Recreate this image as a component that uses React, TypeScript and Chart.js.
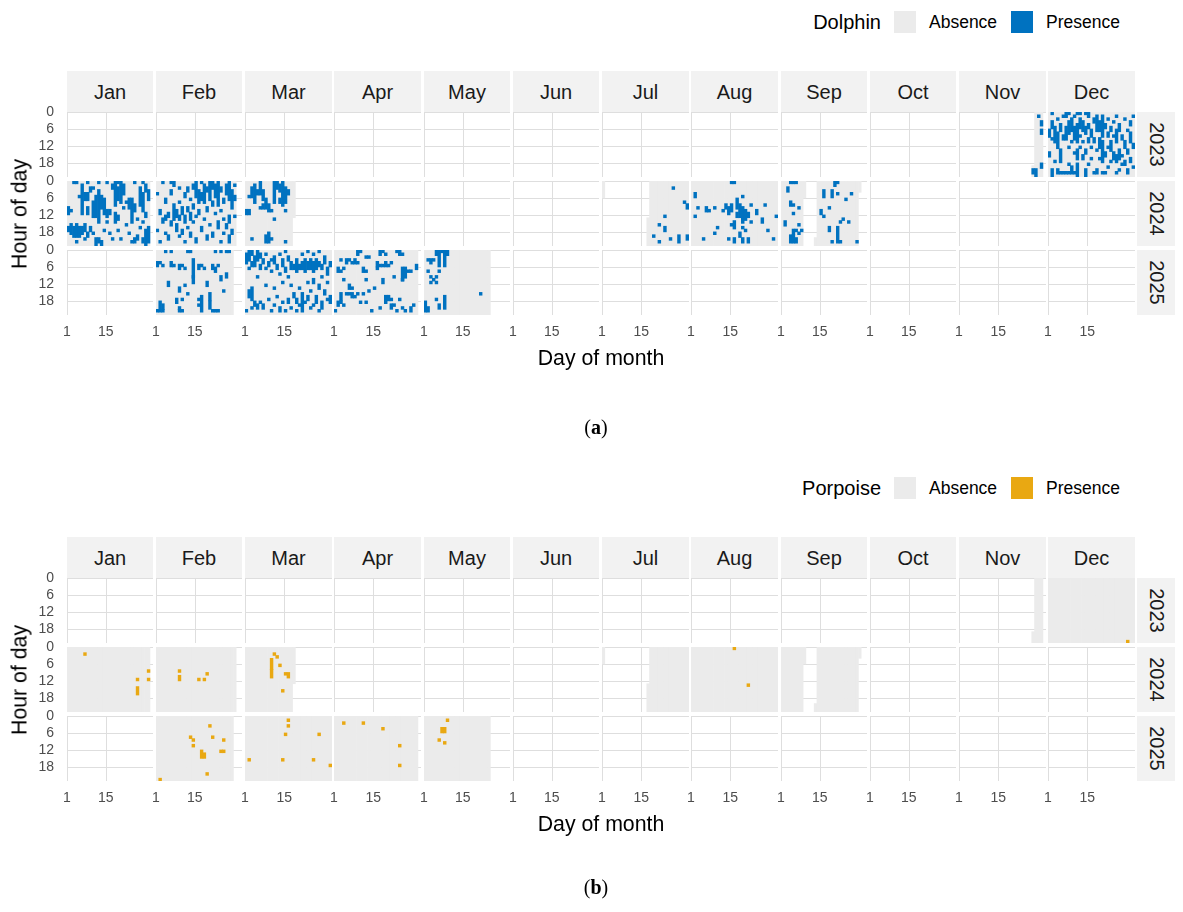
import React, { useEffect, useRef } from 'react';
import { Chart, registerables } from 'chart.js';

Chart.register(...registerables);

// ---------------- data ----------------
const MONTHS = ['Jan', 'Feb', 'Mar', 'Apr', 'May', 'Jun', 'Jul', 'Aug', 'Sep', 'Oct', 'Nov', 'Dec'];
const YEARS = [2023, 2024, 2025];
const DAY_TICKS = [1, 15];
const HOUR_TICKS = [0, 6, 12, 18];
const LAST_HOUR = 22;

// Recording effort (Absence background): [year, month, startDay, startHour, endDay, endHour]
const RECORDING: number[][] = [
  [2023, 11, 27, 19, 30, 22],
  [2023, 12, 1, 0, 31, 22],
  [2024, 1, 1, 0, 30, 22],
  [2024, 2, 1, 0, 29, 22],
  [2024, 3, 1, 0, 18, 12],
  [2024, 7, 1, 0, 1, 5],
  [2024, 7, 17, 13, 31, 22],
  [2024, 8, 1, 0, 31, 22],
  [2024, 9, 1, 0, 9, 5],
  [2024, 9, 13, 20, 29, 3],
  [2025, 2, 1, 0, 28, 22],
  [2025, 3, 1, 0, 31, 22],
  [2025, 4, 1, 0, 30, 22],
  [2025, 5, 1, 0, 24, 22],
];

// Presence runs: [day, fromHour, toHour]
const DOLPHIN_2023_11 = [[29, 1, 1], [30, 3, 4], [30, 6, 7], [30, 18, 19], [27, 20, 21], [28, 20, 22]];
const DOLPHIN_2023_12 = [
  [1, 6, 8], [1, 14, 15], [2, 0, 0], [2, 3, 5], [2, 9, 9], [2, 20, 22], [3, 5, 10], [3, 17, 17],
  [4, 2, 2], [4, 7, 12], [4, 20, 21], [5, 4, 6], [5, 13, 17], [5, 21, 21], [6, 1, 1], [6, 8, 9], [6, 21, 21],
  [7, 0, 1], [7, 5, 9], [7, 21, 21], [8, 0, 0], [8, 3, 7], [8, 12, 12], [8, 18, 18], [8, 21, 21],
  [9, 2, 6], [9, 10, 10], [9, 19, 21], [10, 1, 1], [10, 5, 9], [10, 14, 14], [10, 21, 21],
  [11, 0, 0], [11, 4, 10], [11, 13, 16], [11, 18, 22], [12, 0, 0], [12, 2, 5], [12, 8, 8], [12, 12, 12],
  [13, 3, 6], [13, 10, 10], [13, 15, 16], [14, 0, 0], [14, 5, 7], [14, 13, 14], [14, 20, 22],
  [15, 0, 1], [15, 4, 5], [15, 9, 10], [15, 18, 18], [16, 6, 8], [16, 12, 12], [16, 16, 16],
  [17, 2, 3], [17, 9, 10], [17, 21, 21], [18, 1, 6], [18, 13, 13], [18, 20, 21],
  [19, 3, 6], [19, 9, 12], [19, 16, 16], [20, 1, 8], [20, 10, 17], [20, 21, 21],
  [21, 4, 5], [21, 14, 15], [21, 21, 21], [22, 2, 2], [22, 7, 8], [22, 12, 12], [22, 19, 19],
  [23, 5, 6], [23, 10, 13], [23, 17, 17], [24, 3, 3], [24, 8, 8], [24, 14, 16],
  [25, 1, 1], [25, 6, 10], [25, 15, 17], [25, 21, 21], [26, 4, 6], [26, 13, 16], [26, 20, 20],
  [27, 8, 9], [27, 15, 15], [27, 18, 18], [28, 2, 2], [28, 10, 12], [28, 17, 18],
  [29, 6, 6], [29, 13, 14], [29, 20, 21], [30, 3, 4], [30, 7, 10], [30, 16, 17],
  [31, 1, 1], [31, 11, 12], [31, 19, 19],
];
const DOLPHIN_2024_01 = [
  [1, 9, 11], [1, 16, 17], [2, 10, 10], [2, 15, 18], [3, 0, 0], [3, 16, 19], [4, 0, 0], [4, 15, 19], [4, 21, 21],
  [5, 5, 5], [5, 16, 19], [6, 1, 11], [6, 16, 18], [7, 4, 6], [7, 15, 17], [7, 20, 20],
  [8, 0, 0], [8, 4, 6], [8, 9, 11], [8, 18, 19], [9, 2, 3], [9, 16, 17], [10, 2, 2], [10, 7, 12], [10, 18, 18],
  [11, 5, 12], [11, 20, 22], [12, 0, 0], [12, 3, 14], [12, 20, 21], [13, 5, 9], [13, 21, 22],
  [14, 6, 11], [14, 17, 17], [15, 0, 0], [15, 10, 12], [15, 14, 14], [16, 10, 11], [16, 18, 18],
  [17, 1, 2], [17, 20, 20], [18, 0, 8], [18, 11, 14], [19, 0, 0], [19, 2, 6], [19, 12, 13], [19, 17, 17],
  [20, 0, 7], [20, 20, 20], [21, 1, 4], [21, 9, 9], [22, 7, 7], [22, 15, 15], [23, 6, 9], [23, 18, 18],
  [24, 6, 14], [24, 21, 21], [25, 0, 0], [25, 8, 10], [25, 20, 21], [26, 13, 13], [26, 19, 20],
  [27, 2, 8], [27, 16, 16], [28, 0, 0], [28, 4, 10], [28, 14, 14], [28, 20, 21],
  [29, 1, 3], [29, 11, 12], [29, 17, 22], [30, 3, 6], [30, 16, 21],
];
const DOLPHIN_2024_02 = [
  [1, 4, 4], [1, 17, 17], [2, 10, 11], [2, 21, 21], [3, 0, 0], [3, 13, 14], [4, 6, 7], [4, 12, 13], [4, 18, 18],
  [5, 11, 12], [5, 19, 20], [6, 0, 0], [6, 3, 4], [6, 14, 15], [7, 0, 1], [7, 8, 13], [8, 10, 12], [8, 15, 17],
  [9, 2, 2], [9, 7, 7], [9, 12, 13], [9, 19, 19], [10, 9, 11], [10, 17, 18], [11, 4, 5], [11, 12, 14], [11, 21, 21],
  [12, 2, 3], [12, 9, 10], [12, 16, 16], [13, 6, 6], [13, 11, 13], [13, 18, 19], [14, 1, 2], [14, 8, 9], [14, 14, 14],
  [15, 0, 5], [15, 12, 12], [15, 20, 21], [16, 3, 7], [16, 10, 11], [17, 0, 0], [17, 4, 6], [17, 16, 17],
  [18, 1, 7], [18, 13, 13], [19, 2, 3], [19, 9, 10], [19, 19, 20], [20, 0, 6], [20, 15, 15],
  [21, 0, 2], [21, 7, 8], [21, 18, 19], [22, 1, 5], [22, 11, 11], [23, 0, 8], [23, 14, 16],
  [24, 2, 3], [24, 10, 10], [24, 21, 21], [25, 6, 7], [25, 13, 13], [25, 18, 18], [26, 1, 4], [26, 15, 16],
  [27, 0, 6], [27, 12, 14], [27, 19, 21], [28, 3, 9], [28, 17, 18], [29, 1, 1], [29, 5, 6], [29, 12, 12],
];
const DOLPHIN_2024_03 = [
  [1, 10, 11], [2, 5, 5], [2, 10, 11], [3, 2, 5], [3, 20, 20], [4, 1, 7], [5, 3, 4], [6, 0, 4], [6, 9, 9],
  [7, 3, 6], [7, 8, 9], [8, 6, 9], [8, 19, 21], [9, 8, 10], [9, 18, 21], [10, 10, 10], [10, 20, 20],
  [11, 0, 7], [11, 13, 13], [12, 0, 2], [13, 1, 3], [13, 6, 7], [14, 0, 8], [15, 2, 7], [15, 10, 10],
  [15, 21, 21], [16, 3, 4],
];
const DOLPHIN_2024_07 = [
  [26, 2, 2], [30, 7, 7], [31, 8, 9], [23, 12, 12], [21, 15, 15], [23, 16, 17], [19, 19, 19],
  [21, 21, 21], [25, 20, 20], [28, 19, 21], [31, 19, 20],
];
const DOLPHIN_2024_08 = [
  [2, 4, 5], [2, 12, 12], [3, 9, 9], [5, 20, 20], [6, 9, 10], [7, 10, 10], [9, 9, 9], [9, 18, 18],
  [10, 16, 16], [12, 10, 10], [13, 8, 9], [14, 9, 11], [14, 20, 20], [15, 0, 0], [15, 8, 10], [15, 15, 15],
  [16, 0, 0], [16, 14, 16], [16, 20, 21], [17, 6, 9], [17, 11, 12], [18, 8, 12], [18, 18, 19], [19, 5, 5],
  [19, 9, 14], [19, 16, 16], [19, 20, 21], [20, 10, 13], [20, 17, 17], [21, 11, 12], [21, 20, 21],
  [22, 8, 8], [22, 14, 14], [24, 10, 11], [26, 13, 14], [27, 8, 8], [28, 17, 17], [30, 20, 20], [31, 12, 12],
];
const DOLPHIN_2024_09 = [
  [2, 14, 15], [3, 2, 3], [4, 0, 0], [4, 7, 8], [4, 19, 21], [5, 0, 0], [5, 8, 8], [5, 11, 11], [5, 17, 18],
  [5, 19, 21], [6, 0, 0], [6, 17, 17], [6, 20, 21], [7, 9, 9], [7, 15, 15], [7, 18, 18], [8, 17, 17],
  [15, 10, 11], [16, 3, 5], [16, 12, 12], [18, 9, 9], [18, 16, 17], [19, 3, 5], [19, 21, 21], [20, 0, 1],
  [21, 0, 0], [21, 4, 4], [21, 16, 21], [22, 14, 14], [22, 21, 21], [23, 13, 13], [24, 6, 6], [25, 14, 14],
  [26, 4, 4], [28, 21, 21],
];
const DOLPHIN_2025_02 = [
  [1, 4, 5], [2, 4, 4], [3, 5, 5], [4, 0, 0], [6, 0, 0], [6, 4, 5], [7, 5, 5], [9, 5, 6], [10, 5, 5], [11, 6, 6],
  [12, 0, 0], [13, 0, 0], [14, 3, 9], [16, 5, 6], [17, 5, 5], [18, 6, 6], [21, 5, 6], [22, 6, 7], [23, 5, 5],
  [22, 0, 0], [24, 0, 0], [26, 0, 0], [27, 0, 0], [26, 8, 9], [9, 13, 14], [14, 9, 11], [19, 11, 12],
  [16, 17, 17], [20, 15, 17], [17, 16, 21], [2, 18, 20], [3, 19, 20], [8, 17, 18], [9, 20, 20], [10, 17, 17],
  [16, 19, 19], [1, 21, 21], [2, 21, 21], [3, 21, 21], [9, 21, 21], [10, 21, 21], [21, 21, 21], [22, 21, 21],
  [23, 21, 21], [20, 18, 20], [5, 11, 12], [12, 15, 15], [24, 9, 10], [11, 12, 12], [25, 14, 14],
];
const DOLPHIN_2025_03 = [
  [1, 1, 4], [1, 21, 21], [2, 0, 3], [2, 6, 6], [2, 14, 16], [3, 0, 1], [3, 4, 5], [3, 13, 17], [3, 20, 20],
  [4, 2, 5], [4, 18, 19], [5, 0, 3], [5, 9, 9], [5, 19, 20], [6, 1, 2], [6, 5, 6], [6, 18, 18], [7, 3, 4],
  [7, 19, 20], [8, 1, 1], [8, 6, 6], [8, 12, 12], [9, 4, 5], [9, 17, 17], [10, 3, 3], [10, 7, 7], [10, 21, 21],
  [11, 2, 4], [11, 13, 13], [11, 19, 19], [12, 5, 6], [12, 16, 16], [13, 1, 1], [13, 8, 8], [13, 20, 21],
  [14, 3, 5], [14, 11, 11], [14, 18, 18], [15, 0, 0], [15, 6, 7], [15, 21, 21], [16, 2, 3], [16, 9, 9],
  [16, 17, 18], [17, 4, 6], [17, 12, 12], [17, 20, 20], [18, 5, 6], [18, 15, 16], [19, 3, 7], [19, 17, 18],
  [19, 21, 21], [20, 5, 6], [20, 13, 13], [20, 19, 19], [21, 1, 1], [21, 4, 6], [21, 15, 21], [22, 3, 7],
  [22, 18, 18], [23, 0, 0], [23, 4, 6], [23, 11, 11], [23, 16, 17], [24, 3, 6], [24, 14, 14], [24, 20, 20],
  [25, 1, 1], [25, 4, 7], [25, 10, 11], [25, 19, 19], [26, 3, 6], [26, 16, 18], [27, 0, 0], [27, 4, 5],
  [27, 12, 13], [27, 21, 21], [28, 5, 6], [28, 9, 9], [28, 18, 20], [29, 2, 4], [29, 14, 15], [30, 6, 8],
  [30, 11, 11], [30, 17, 17], [31, 4, 5], [31, 16, 18],
];
const DOLPHIN_2025_04 = [
  [9, 0, 1], [10, 0, 0], [17, 0, 1], [18, 0, 0], [19, 1, 1], [23, 0, 0], [24, 0, 1], [25, 1, 1], [3, 3, 3],
  [5, 3, 4], [6, 3, 3], [7, 4, 4], [8, 3, 4], [9, 4, 4], [12, 2, 2], [13, 2, 2], [16, 4, 5], [17, 5, 5],
  [18, 5, 5], [19, 4, 5], [20, 5, 5], [21, 4, 4], [11, 6, 7], [12, 7, 7], [2, 6, 7], [3, 7, 7], [4, 6, 6],
  [16, 6, 6], [25, 6, 10], [26, 6, 9], [27, 7, 7], [28, 7, 7], [30, 5, 6], [4, 10, 10], [12, 10, 10],
  [18, 10, 11], [25, 10, 10], [6, 12, 13], [7, 13, 13], [13, 14, 14], [3, 15, 17], [5, 15, 15], [6, 15, 15],
  [7, 15, 16], [8, 16, 16], [9, 15, 15], [11, 15, 15], [19, 16, 18], [20, 16, 17], [21, 17, 17], [24, 17, 17],
  [2, 18, 19], [3, 18, 18], [4, 19, 19], [10, 18, 18], [12, 18, 18], [17, 20, 20], [21, 19, 20], [22, 19, 19],
  [25, 20, 20], [29, 19, 19], [1, 21, 21], [14, 21, 21], [23, 21, 21], [26, 21, 21], [28, 20, 21],
  [15, 13, 13], [22, 9, 9],
];
const DOLPHIN_2025_05 = [
  [5, 0, 1], [6, 0, 5], [7, 0, 0], [8, 0, 5], [9, 0, 1], [2, 3, 3], [3, 3, 4], [4, 3, 3], [6, 7, 7], [2, 7, 7],
  [3, 9, 9], [4, 10, 10], [5, 9, 9], [3, 11, 11], [5, 11, 11], [21, 15, 15], [1, 18, 21], [2, 20, 21],
  [5, 17, 17], [6, 19, 20], [8, 16, 20],
];

const PORPOISE_2023_12 = [[29, 22, 22]];
const PORPOISE_2024_01 = [[7, 2, 2], [30, 8, 8], [26, 11, 11], [30, 11, 11], [26, 14, 16]];
const PORPOISE_2024_02 = [[9, 8, 8], [9, 10, 11], [16, 11, 11], [18, 11, 11], [19, 9, 9]];
const PORPOISE_2024_03 = [[11, 2, 2], [12, 3, 3], [10, 4, 7], [13, 6, 6], [10, 8, 10], [15, 9, 9], [16, 9, 10], [14, 15, 15]];
const PORPOISE_2024_08 = [[16, 0, 0], [21, 13, 13]];
const PORPOISE_2025_02 = [
  [20, 3, 3], [13, 7, 7], [14, 8, 8], [14, 10, 10], [21, 7, 7], [25, 8, 8], [17, 12, 14], [18, 13, 14],
  [24, 12, 12], [25, 12, 12], [19, 20, 20], [2, 22, 22],
];
const PORPOISE_2025_03 = [[16, 1, 1], [16, 3, 3], [15, 6, 6], [27, 6, 6], [2, 15, 15], [14, 15, 15], [25, 15, 15], [31, 17, 17]];
const PORPOISE_2025_04 = [[4, 2, 2], [11, 2, 2], [18, 4, 4], [24, 10, 10], [24, 17, 17]];
const PORPOISE_2025_05 = [[9, 1, 1], [7, 4, 5], [8, 4, 5], [6, 8, 8], [8, 9, 9]];

const DOLPHIN: Record<string, number[][]> = {
  '2023-11': DOLPHIN_2023_11, '2023-12': DOLPHIN_2023_12, '2024-1': DOLPHIN_2024_01, '2024-2': DOLPHIN_2024_02,
  '2024-3': DOLPHIN_2024_03, '2024-7': DOLPHIN_2024_07, '2024-8': DOLPHIN_2024_08, '2024-9': DOLPHIN_2024_09,
  '2025-2': DOLPHIN_2025_02, '2025-3': DOLPHIN_2025_03, '2025-4': DOLPHIN_2025_04, '2025-5': DOLPHIN_2025_05,
};
const PORPOISE: Record<string, number[][]> = {
  '2023-12': PORPOISE_2023_12, '2024-1': PORPOISE_2024_01, '2024-2': PORPOISE_2024_02, '2024-3': PORPOISE_2024_03,
  '2024-8': PORPOISE_2024_08, '2025-2': PORPOISE_2025_02, '2025-3': PORPOISE_2025_03, '2025-4': PORPOISE_2025_04,
  '2025-5': PORPOISE_2025_05,
};

// ---------------- styling / layout ----------------
const BLUE = '#0072C0';
const ORANGE = '#E9A812';
const ABSENCE = '#EBEBEB';
const STRIP_BG = '#F2F2F2';
const GRID = '#DEDEDE';
const SANS = '"Liberation Sans", Arial, sans-serif';

const COL_X0 = 66.5;
const COL_PITCH = 89.25;
const PANEL_W = 86.5;
const ROW_Y0 = 111.5;
const ROW_PITCH = 69.2;
const PANEL_H = 65.5;
const STRIP_TOP = 71;
const PAD = 26;
const Y_AXIS_W = 60;
const X_AXIS_H = 34;

// grid lines only at the chosen breaks, drawn under the tiles through the chart's scales
const facetGrid = {
  id: 'facetGrid',
  beforeDatasetsDraw(chart: any) {
    const { ctx, chartArea: a, scales } = chart;
    ctx.save();
    ctx.strokeStyle = GRID;
    ctx.lineWidth = 1;
    ctx.beginPath();
    DAY_TICKS.forEach((v) => {
      const px = Math.round(scales.x.getPixelForValue(v)) + 0.5;
      ctx.moveTo(px, a.top);
      ctx.lineTo(px, a.bottom);
    });
    HOUR_TICKS.forEach((v) => {
      const py = Math.round(scales.y.getPixelForValue(v)) + 0.5;
      ctx.moveTo(a.left, py);
      ctx.lineTo(a.right, py);
    });
    ctx.stroke();
    ctx.restore();
  },
};

function absenceFor(year: number, month: number) {
  const out: { x: number; y: number[] }[] = [];
  RECORDING.filter((r) => r[0] === year && r[1] === month).forEach(([, , sd, sh, ed, eh]) => {
    for (let d = sd; d <= ed; d++) {
      const a = d === sd ? sh : 0;
      const b = d === ed ? eh : LAST_HOUR;
      out.push({ x: d + 0.5, y: [a, b + 1] });
    }
  });
  return out;
}

type PanelProps = {
  x0: number; y0: number; x1: number; y1: number;
  left: boolean; bottom: boolean; year: number; month: number;
  presence: number[][]; color: string;
};

function Panel({ x0, y0, x1, y1, left, bottom, year, month, presence, color }: PanelProps) {
  const ref = useRef<HTMLCanvasElement>(null);
  const padL = left ? Y_AXIS_W : PAD;
  const padB = bottom ? X_AXIS_H : PAD;
  const w = x1 - x0 + padL + PAD;
  const h = y1 - y0 + PAD + padB;

  useEffect(() => {
    const tickFont = { family: SANS, size: 14 };
    const chart = new Chart(ref.current as HTMLCanvasElement, {
      type: 'bar',
      plugins: [facetGrid],
      data: {
        datasets: [
          {
            label: 'Presence',
            data: presence.map(([d, a, b]) => ({ x: d + 0.5, y: [a, b + 1] })) as any,
            backgroundColor: color,
            borderWidth: 0,
            grouped: false,
            barPercentage: 1,
            categoryPercentage: 1,
          } as any,
          {
            label: 'Absence',
            data: absenceFor(year, month) as any,
            backgroundColor: ABSENCE,
            borderWidth: 0,
            grouped: false,
            barPercentage: 1,
            categoryPercentage: 1,
          } as any,
        ],
      },
      options: {
        animation: false,
        responsive: false,
        maintainAspectRatio: false,
        events: [],
        layout: { padding: { left: left ? 0 : PAD, right: PAD, top: PAD, bottom: bottom ? 0 : PAD } },
        plugins: { legend: { display: false }, tooltip: { enabled: false }, title: { display: false } },
        scales: {
          x: {
            type: 'linear',
            min: 1,
            max: 32.1,
            offset: false,
            border: { display: false },
            grid: { display: false, drawTicks: false },
            ticks: {
              display: bottom,
              autoSkip: false,
              maxRotation: 0,
              padding: 9,
              color: '#4D4D4D',
              font: tickFont,
              callback: (v: any) => String(v),
            },
            afterBuildTicks: (s: any) => {
              s.ticks = DAY_TICKS.map((v) => ({ value: v }));
            },
            afterFit: (s: any) => {
              s.height = bottom ? X_AXIS_H : 0;
            },
          },
          y: {
            type: 'linear',
            reverse: true,
            min: 0,
            max: LAST_HOUR + 1,
            border: { display: false },
            grid: { display: false, drawTicks: false },
            ticks: {
              display: left,
              autoSkip: false,
              padding: 13,
              color: '#4D4D4D',
              font: tickFont,
              callback: (v: any) => String(v),
            },
            afterBuildTicks: (s: any) => {
              s.ticks = HOUR_TICKS.map((v) => ({ value: v }));
            },
            afterFit: (s: any) => {
              s.width = left ? Y_AXIS_W : 0;
            },
          },
        },
      } as any,
    });
    return () => chart.destroy();
  }, []);

  return (
    <canvas
      ref={ref}
      width={w}
      height={h}
      style={{ position: 'absolute', left: x0 - padL, top: y0 - PAD, width: w, height: h }}
    />
  );
}

type FigureProps = {
  top: number; species: string; color: string; presence: Record<string, number[][]>;
  letter: string; captionY: number;
};

function Figure({ top, species, color, presence, letter, captionY }: FigureProps) {
  const cols = MONTHS.map((m, c) => ({
    m,
    x0: Math.round(COL_X0 + c * COL_PITCH),
    x1: Math.round(COL_X0 + c * COL_PITCH + PANEL_W),
  }));
  const rows = YEARS.map((yr, r) => ({
    yr,
    y0: Math.round(top + ROW_Y0 + r * ROW_PITCH),
    y1: Math.round(top + ROW_Y0 + r * ROW_PITCH + PANEL_H),
  }));
  const plotLeft = cols[0].x0;
  const plotRight = cols[11].x1;
  const plotTop = rows[0].y0;
  const plotBottom = rows[2].y1;
  const legendY = top + 22;

  return (
    <>
      {/* legend */}
      <div style={{ position: 'absolute', right: 1183 - 881, top: legendY - 12, height: 24, lineHeight: '24px', fontFamily: SANS, fontSize: 20, color: '#000' }}>
        {species}
      </div>
      <div style={{ position: 'absolute', left: 894, top: legendY - 11, width: 22, height: 22, background: ABSENCE }} />
      <div style={{ position: 'absolute', left: 929, top: legendY - 11, height: 22, lineHeight: '22px', fontFamily: SANS, fontSize: 17.5, color: '#000' }}>
        Absence
      </div>
      <div style={{ position: 'absolute', left: 1011, top: legendY - 11, width: 22, height: 22, background: color }} />
      <div style={{ position: 'absolute', left: 1046, top: legendY - 11, height: 22, lineHeight: '22px', fontFamily: SANS, fontSize: 17.5, color: '#000' }}>
        Presence
      </div>

      {/* month strips */}
      {cols.map((c) => (
        <div
          key={c.m}
          style={{
            position: 'absolute', left: c.x0, top: top + STRIP_TOP, width: c.x1 - c.x0, height: plotTop - (top + STRIP_TOP),
            background: STRIP_BG, display: 'flex', alignItems: 'center', justifyContent: 'center',
            fontFamily: SANS, fontSize: 20, color: '#1A1A1A', paddingTop: 2, boxSizing: 'border-box',
          }}
        >
          {c.m}
        </div>
      ))}

      {/* year strips */}
      {rows.map((r) => (
        <div
          key={r.yr}
          style={{
            position: 'absolute', left: plotRight + 2, top: r.y0, width: 38, height: r.y1 - r.y0,
            background: STRIP_BG, display: 'flex', alignItems: 'center', justifyContent: 'center',
            fontFamily: SANS, fontSize: 20, color: '#1A1A1A',
          }}
        >
          <span style={{ transform: 'rotate(90deg)', whiteSpace: 'nowrap' }}>{r.yr}</span>
        </div>
      ))}

      {/* panels */}
      {rows.map((r, ri) =>
        cols.map((c, ci) => (
          <Panel
            key={`${r.yr}-${ci}`}
            x0={c.x0} x1={c.x1} y0={r.y0} y1={r.y1}
            left={ci === 0} bottom={ri === 2}
            year={r.yr} month={ci + 1}
            presence={presence[`${r.yr}-${ci + 1}`] || []}
            color={color}
          />
        ))
      )}

      {/* axis titles */}
      <div
        style={{
          position: 'absolute', left: 20, top: (plotTop + plotBottom) / 2, transform: 'translate(-50%, -50%) rotate(-90deg)',
          whiteSpace: 'nowrap', fontFamily: SANS, fontSize: 21.3, color: '#000',
        }}
      >
        Hour of day
      </div>
      <div
        style={{
          position: 'absolute', left: (plotLeft + plotRight) / 2, top: top + 358, transform: 'translate(-50%, -50%)',
          whiteSpace: 'nowrap', fontFamily: SANS, fontSize: 21.3, color: '#000',
        }}
      >
        Day of month
      </div>

      {/* caption */}
      <div
        style={{
          position: 'absolute', left: 596, top: captionY, transform: 'translate(-50%, -50%)',
          whiteSpace: 'nowrap', fontFamily: '"Liberation Serif", "DejaVu Serif", serif', fontSize: 20, color: '#000',
        }}
      >
        (<b>{letter}</b>)
      </div>
    </>
  );
}

export default function App() {
  return (
    <div style={{ position: 'absolute', left: 0, top: 0, width: 1183, height: 912, background: '#fff', overflow: 'hidden' }}>
      <Figure top={0} species="Dolphin" color={BLUE} presence={DOLPHIN} letter="a" captionY={427} />
      <Figure top={466} species="Porpoise" color={ORANGE} presence={PORPOISE} letter="b" captionY={887} />
    </div>
  );
}
